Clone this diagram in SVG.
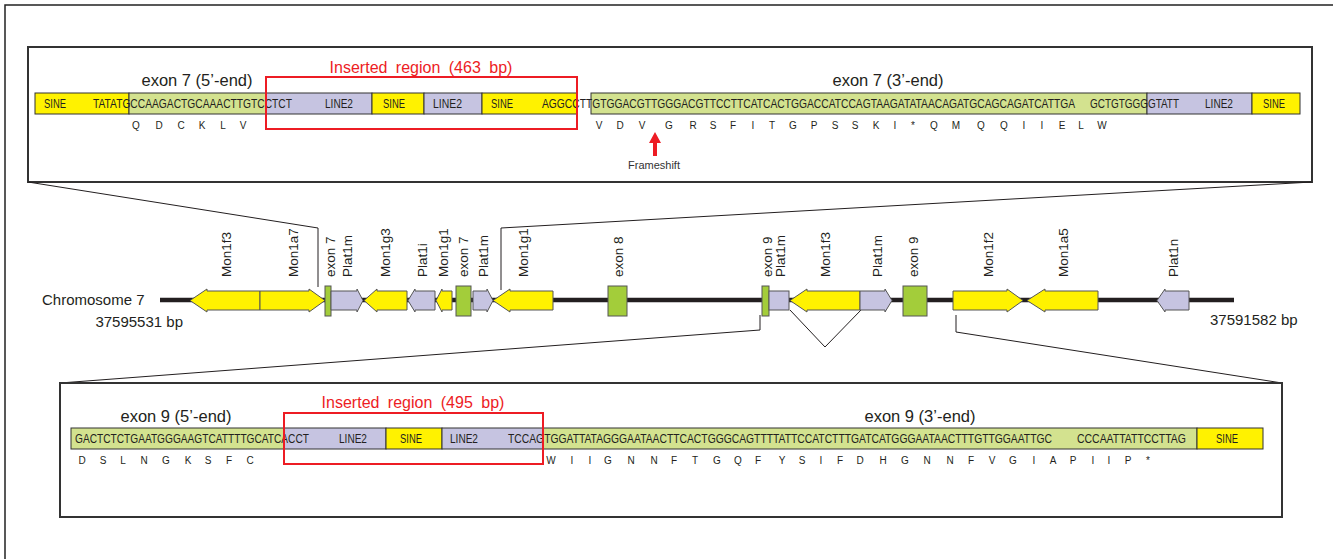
<svg xmlns="http://www.w3.org/2000/svg" width="1333" height="559" viewBox="0 0 1333 559">
<style>
  .frame{fill:none;stroke:#222;stroke-width:1.5}
  .panel{fill:#fff;stroke:#333;stroke-width:2}
  .sine{fill:#fff200;stroke:#333;stroke-width:1}
  .line2{fill:#c6c4e1;stroke:#333;stroke-width:1}
  .exseq{fill:#d3e28f;stroke:#333;stroke-width:1}
  .redbox{fill:none;stroke:#ed1c24;stroke-width:2}
  .seq{font-family:"Liberation Sans",Arial,sans-serif;font-size:12px;fill:#231f20}
  .aa{font-family:"Liberation Sans",Arial,sans-serif;font-size:10px;fill:#231f20;text-anchor:middle}
  .title{font-family:"Liberation Sans",Arial,sans-serif;font-size:16.5px;fill:#231f20;text-anchor:middle}
  .red{font-family:"Liberation Sans",Arial,sans-serif;font-size:16px;fill:#ed1c24;text-anchor:middle;word-spacing:4px}
  .lbl{font-family:"Liberation Sans",Arial,sans-serif;font-size:13.5px;fill:#231f20}
  .chr{font-family:"Liberation Sans",Arial,sans-serif;font-size:15px;fill:#231f20}
  .small{font-family:"Liberation Sans",Arial,sans-serif;font-size:11px;fill:#333;text-anchor:middle}
  .gy{fill:#fff200;stroke:#555;stroke-width:1}
  .gl{fill:#c6c4e1;stroke:#555;stroke-width:1}
  .ge{fill:#a3cd3a;stroke:#555;stroke-width:1}
  .conn{fill:none;stroke:#231f20;stroke-width:1}
</style>

<path class="frame" d="M5,559 V5 H1333"/>

<g id="top-panel">
  <rect class="panel" x="28" y="47" width="1284" height="135"/>
  <text class="title" x="197" y="86">exon 7 (5’-end)</text>
  <text class="title" x="888" y="86">exon 7 (3’-end)</text>
  <rect class="sine" x="35" y="93" width="94" height="21"/>
  <rect class="exseq" x="129" y="93" width="137" height="21"/>
  <rect class="line2" x="266" y="93" width="106" height="21"/>
  <rect class="sine" x="372" y="93" width="52" height="21"/>
  <rect class="line2" x="424" y="93" width="58" height="21"/>
  <rect class="sine" x="482" y="93" width="95" height="21"/>
  <rect class="exseq" x="591" y="93" width="556" height="21"/>
  <rect class="line2" x="1147" y="93" width="105" height="21"/>
  <rect class="sine" x="1252" y="93" width="48" height="21"/>
  <text class="seq" transform="translate(44,108) scale(0.83,1)" textLength="26.5" lengthAdjust="spacingAndGlyphs">SINE</text>
  <text class="seq" transform="translate(93,108) scale(0.83,1)" textLength="239.8" lengthAdjust="spacingAndGlyphs">TATATGCCAAGACTGCAAACTTGTCCTCT</text>
  <text class="seq" transform="translate(325,108) scale(0.83,1)" textLength="33.7" lengthAdjust="spacingAndGlyphs">LINE2</text>
  <text class="seq" transform="translate(383,108) scale(0.83,1)" textLength="26.5" lengthAdjust="spacingAndGlyphs">SINE</text>
  <text class="seq" transform="translate(433,108) scale(0.83,1)" textLength="34.9" lengthAdjust="spacingAndGlyphs">LINE2</text>
  <text class="seq" transform="translate(491,108) scale(0.83,1)" textLength="26.5" lengthAdjust="spacingAndGlyphs">SINE</text>
  <text class="seq" transform="translate(542,108) scale(0.83,1)" textLength="642.2" lengthAdjust="spacingAndGlyphs">AGGCCTTGTGGACGTTGGGACGTTCCTTCATCACTGGACCATCCAGTAAGATATAACAGATGCAGCAGATCATTGA</text>
  <text class="seq" transform="translate(1090,108) scale(0.83,1)" textLength="107.2" lengthAdjust="spacingAndGlyphs">GCTGTGGGGTATT</text>
  <text class="seq" transform="translate(1205,108) scale(0.83,1)" textLength="33.7" lengthAdjust="spacingAndGlyphs">LINE2</text>
  <text class="seq" transform="translate(1263,108) scale(0.83,1)" textLength="26.5" lengthAdjust="spacingAndGlyphs">SINE</text>
  <rect class="redbox" x="266" y="77" width="311" height="52"/>
  <text class="red" x="421" y="73">Inserted region (463 bp)</text>
  <text class="aa" x="136 159 181 202 223 243" y="129">QDCKLV</text>
  <text class="aa" x="599 620 642 669 693 713 733 753 772 793 814 835 855 876 895 913 934 956 981 1004 1024 1042 1062 1081 1102" y="129">VDVGRSFITGPSSKI*QMQQIIELW</text>
  <polygon fill="#ed1c24" points="655,132 661,143 657,143 657,156 653,156 653,143 649,143"/>
  <text class="small" x="654" y="169">Frameshift</text>
</g>

<g id="connectors">
  <polyline class="conn" points="28,182 318,228 318,287"/>
  <polyline class="conn" points="1312,182 501,228 501,290"/>
  <polyline class="conn" points="60,383 760,330 760,315"/>
  <polyline class="conn" points="1282,383 956,332 956,315"/>
  <polyline class="conn" points="790,310 825,347 861,310"/>
</g>

<g id="chromosome">
  <line x1="160" y1="300" x2="1234" y2="300" stroke="#231f20" stroke-width="4.5"/>
  <text class="chr" x="42" y="305">Chromosome 7</text>
  <text class="chr" x="183" y="327" text-anchor="end">37595531 bp</text>
  <text class="chr" x="1210" y="325">37591582 bp</text>
</g>

<g id="gene-Mon1f3-a"><polygon class="gy" points="190,300.5 207,289 207,291 260,291 260,310 207,310 207,312"/></g>
<g id="gene-Mon1a7"><polygon class="gy" points="260,291 309,291 309,289 325,300.5 309,312 309,310 260,310"/></g>
<g id="exon7-a"><rect class="ge" x="325" y="286" width="6" height="30"/></g>
<g id="gene-Plat1m-a"><polygon class="gl" points="331,291 357,291 357,289 363,300.5 357,312 357,310 331,310"/></g>
<g id="gene-Mon1g3"><polygon class="gy" points="364,300.5 377,289 377,291 407,291 407,310 377,310 377,312"/></g>
<g id="gene-Plat1i"><polygon class="gl" points="408,300.5 415,289 415,291 435,291 435,310 415,310 415,312"/></g>
<g id="gene-Mon1g1-a"><polygon class="gy" points="436,300.5 442,289 442,291 452,291 452,310 442,310 442,312"/></g>
<g id="exon7-b"><rect class="ge" x="456" y="286" width="15" height="30"/></g>
<g id="gene-Plat1m-b"><polygon class="gl" points="473,291 487,291 487,289 493,300.5 487,312 487,310 473,310"/></g>
<g id="gene-Mon1g1-b"><polygon class="gy" points="493,300.5 510,289 510,291 553,291 553,310 510,310 510,312"/></g>
<g id="exon8"><rect class="ge" x="608" y="286" width="19" height="30"/></g>
<g id="exon9-a"><rect class="ge" x="762" y="286" width="7" height="30"/></g>
<g id="gene-Plat1m-c"><rect class="gl" x="769" y="291" width="20" height="19"/></g>
<g id="gene-Mon1f3-b"><polygon class="gy" points="790,300.5 807,289 807,291 860,291 860,310 807,310 807,312"/></g>
<g id="gene-Plat1m-d"><polygon class="gl" points="860,291 885,291 885,289 892,300.5 885,312 885,310 860,310"/></g>
<g id="exon9-b"><rect class="ge" x="903" y="286" width="24" height="30"/></g>
<g id="gene-Mon1f2"><polygon class="gy" points="953,291 1007,291 1007,289 1023,300.5 1007,312 1007,310 953,310"/></g>
<g id="gene-Mon1a5"><polygon class="gy" points="1027,300.5 1045,289 1045,291 1098,291 1098,310 1045,310 1045,312"/></g>
<g id="gene-Plat1n"><polygon class="gl" points="1157,300.5 1165,289 1165,291 1189,291 1189,310 1165,310 1165,312"/></g>

<g id="gene-labels">
  <text class="lbl" transform="translate(231,277) rotate(-90)">Mon1f3</text>
  <text class="lbl" transform="translate(298,277) rotate(-90)">Mon1a7</text>
  <text class="lbl" transform="translate(334.5,277) rotate(-90)">exon 7</text>
  <text class="lbl" transform="translate(351.5,277) rotate(-90)">Plat1m</text>
  <text class="lbl" transform="translate(389.5,277) rotate(-90)">Mon1g3</text>
  <text class="lbl" transform="translate(426.5,277) rotate(-90)">Plat1i</text>
  <text class="lbl" transform="translate(447.5,277) rotate(-90)">Mon1g1</text>
  <text class="lbl" transform="translate(467.5,277) rotate(-90)">exon 7</text>
  <text class="lbl" transform="translate(487.5,277) rotate(-90)">Plat1m</text>
  <text class="lbl" transform="translate(527.5,277) rotate(-90)">Mon1g1</text>
  <text class="lbl" transform="translate(622.5,277) rotate(-90)">exon 8</text>
  <text class="lbl" transform="translate(771.5,277) rotate(-90)">exon 9</text>
  <text class="lbl" transform="translate(784.5,277) rotate(-90)">Plat1m</text>
  <text class="lbl" transform="translate(829.5,277) rotate(-90)">Mon1f3</text>
  <text class="lbl" transform="translate(881.5,277) rotate(-90)">Plat1m</text>
  <text class="lbl" transform="translate(917.5,277) rotate(-90)">exon 9</text>
  <text class="lbl" transform="translate(992.5,277) rotate(-90)">Mon1f2</text>
  <text class="lbl" transform="translate(1067.5,277) rotate(-90)">Mon1a5</text>
  <text class="lbl" transform="translate(1177.5,277) rotate(-90)">Plat1n</text>
</g>

<g id="bottom-panel">
  <rect class="panel" x="60" y="383" width="1222" height="134"/>
  <text class="title" x="176" y="422">exon 9 (5’-end)</text>
  <text class="title" x="920" y="422">exon 9 (3’-end)</text>
  <rect class="exseq" x="71" y="428" width="213" height="21"/>
  <rect class="line2" x="284" y="428" width="102" height="21"/>
  <rect class="sine" x="386" y="428" width="56" height="21"/>
  <rect class="line2" x="442" y="428" width="101" height="21"/>
  <rect class="exseq" x="543" y="428" width="654" height="21"/>
  <rect class="sine" x="1197" y="428" width="66" height="21"/>
  <text class="seq" transform="translate(75,443) scale(0.83,1)" textLength="281.9" lengthAdjust="spacingAndGlyphs">GACTCTCTGAATGGGAAGTCATTTTGCATCACCT</text>
  <text class="seq" transform="translate(339,443) scale(0.83,1)" textLength="33.7" lengthAdjust="spacingAndGlyphs">LINE2</text>
  <text class="seq" transform="translate(400,443) scale(0.83,1)" textLength="26.5" lengthAdjust="spacingAndGlyphs">SINE</text>
  <text class="seq" transform="translate(450,443) scale(0.83,1)" textLength="33.7" lengthAdjust="spacingAndGlyphs">LINE2</text>
  <text class="seq" transform="translate(508,443) scale(0.83,1)" textLength="655.4" lengthAdjust="spacingAndGlyphs">TCCAGTGGATTATAGGGAATAACTTCACTGGGCAGTTTTATTCCATCTTTGATCATGGGAATAACTTTGTTGGAATTGC</text>
  <text class="seq" transform="translate(1077,443) scale(0.83,1)" textLength="131.3" lengthAdjust="spacingAndGlyphs">CCCAATTATTCCTTAG</text>
  <text class="seq" transform="translate(1216,443) scale(0.83,1)" textLength="26.5" lengthAdjust="spacingAndGlyphs">SINE</text>
  <rect class="redbox" x="284" y="413" width="259" height="51"/>
  <text class="red" x="413" y="408">Inserted region (495 bp)</text>
  <text class="aa" x="82 103 123 144 166 188 208 229 250" y="464">DSLNGKSFC</text>
  <text class="aa" x="551 572 590 608 631 654 674 695 717 738 758 782 802 821 840 860 883 905 927 950 971 992 1013 1034 1053 1073 1093 1109 1128 1148" y="464">WIIGNNFTGQFYSIFDHGNNFVGIAPIIP*</text>
</g>
</svg>
